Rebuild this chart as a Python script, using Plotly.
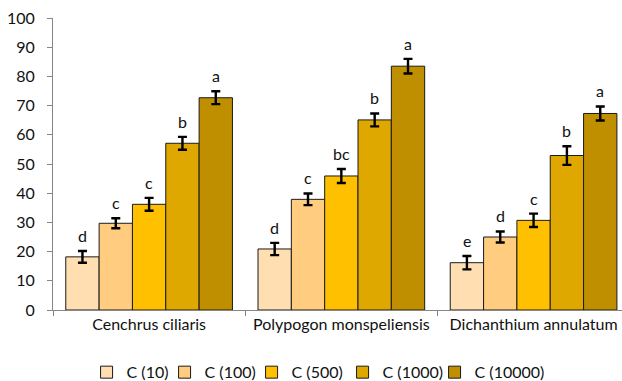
import plotly.graph_objects as go

categories = ["Cenchrus ciliaris", "Polypogon monspeliensis", "Dichanthium annulatum"]
series_names = ["C (10)", "C (100)", "C (500)", "C (1000)", "C (10000)"]
values = [
    [18.2, 20.9, 16.2],
    [29.7, 37.9, 25.0],
    [36.2, 45.9, 30.7],
    [57.1, 65.1, 52.9],
    [72.7, 83.5, 67.3],
]
errors = [
    [2.0, 2.1, 2.3],
    [1.7, 2.0, 1.9],
    [2.2, 2.4, 2.3],
    [2.2, 2.2, 3.2],
    [2.2, 2.5, 2.4],
]
letters = [
    ["d", "d", "e"],
    ["c", "c", "d"],
    ["c", "bc", "c"],
    ["b", "b", "b"],
    ["a", "a", "a"],
]
colors = ["#FFDFB2", "#FFCC80", "#FFC000", "#DFA800", "#BF8F00"]
legend_widths = [33, 42, 46, 47, 75]
y_ticks = list(range(0, 101, 10))

FONT = "Lato, 'Open Sans', sans-serif"
bargap = 0.133
n = len(series_names)

fig = go.Figure()
for i, name in enumerate(series_names):
    fig.add_trace(go.Bar(
        name=name, x=categories, y=values[i],
        marker=dict(color=colors[i], line=dict(color="#1a1a1a", width=1)),
        error_y=dict(type="data", array=errors[i], color="black", thickness=2.4, width=4.5),
        legendwidth=legend_widths[i],
    ))

bw = (1 - bargap) / n
annotations = []
for i in range(n):
    for j in range(len(categories)):
        xpos = j - (1 - bargap) / 2 + bw * (i + 0.5)
        annotations.append(dict(
            x=xpos, y=values[i][j] + errors[i][j], xref="x", yref="y",
            text=letters[i][j], showarrow=False, yanchor="bottom", yshift=4,
            font=dict(family=FONT, size=16, color="#111"),
        ))

fig.update_layout(
    width=622, height=381,
    barmode="group", bargap=bargap, bargroupgap=0,
    plot_bgcolor="white", paper_bgcolor="white",
    margin=dict(l=53, r=0, t=18, b=71, autoexpand=False),
    font=dict(family=FONT, size=16, color="#111"),
    annotations=annotations,
    showlegend=True,
    legend=dict(orientation="h", x=0.059, xanchor="left", y=-0.155, yanchor="top",
                font=dict(family=FONT, size=16, color="#111"), itemwidth=30,
                traceorder="normal"),
    xaxis=dict(
        type="category", range=[-0.5, 2.46],
        showline=True, linecolor="#868686", linewidth=1,
        ticks="outside", tickson="boundaries", ticklen=5, tickcolor="#868686",
        tickfont=dict(family=FONT, size=16, color="#111"),
        automargin=False,
    ),
    yaxis=dict(
        range=[0, 100], tickvals=y_ticks,
        showline=True, linecolor="#868686", linewidth=1,
        ticks="outside", ticklen=5, tickcolor="#868686",
        showgrid=False, zeroline=False, ticklabelstandoff=9,
        tickfont=dict(family=FONT, size=16, color="#111"),
        automargin=False,
    ),
)

fig.write_html("out.html", config={"displayModeBar": False},
               post_script="document.body.style.margin='0px';")
